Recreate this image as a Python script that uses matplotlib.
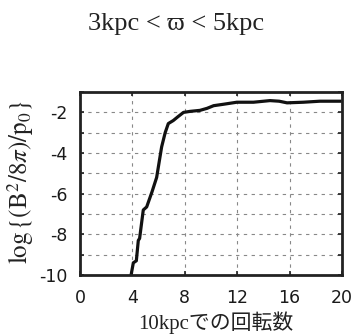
import matplotlib
matplotlib.use('Agg')
import matplotlib.pyplot as plt
import numpy as np

plt.rcParams['mathtext.fontset'] = 'stix'
plt.rcParams['axes.unicode_minus'] = False

# rotations at 10 kpc vs log magnetic / gas pressure
rotations = [3.9, 4.07, 4.3, 4.45, 4.55, 4.83, 5.09, 5.5, 5.85, 6.23, 6.5, 6.74,
             7.12, 7.5, 7.9, 8.4, 9.16, 9.7, 10.2, 10.95, 11.97, 13.24, 14.5,
             15.2, 15.8, 17.05, 18.3, 19.85]
log_ratio = [-10.0, -9.4, -9.3, -8.3, -8.2, -6.8, -6.65, -5.9, -5.2, -3.7, -3.0, -2.55,
             -2.4, -2.2, -2.0, -1.95, -1.9, -1.8, -1.67, -1.6, -1.5, -1.5, -1.42,
             -1.45, -1.53, -1.5, -1.45, -1.45]

x_ticks = [0, 4, 8, 12, 16, 20]
y_ticks = [-10, -8, -6, -4, -2]
y_minor = [-9, -7, -5, -3, -1]

fig = plt.figure(figsize=(3.53, 3.36), dpi=100)
ax = fig.add_axes([0.2266, 0.1815, 0.7424, 0.5445])

ax.plot(rotations, log_ratio, color='#111111', lw=2.3, solid_joinstyle='round')

ax.set_xlim(0, 20)
ax.set_ylim(-10, -1)
ax.set_xticks(x_ticks)
ax.set_yticks(y_ticks)
ax.set_yticks(y_minor, minor=True)
ax.grid(True, which='both', ls=(0, (3, 4)), color='#888888', lw=0.8)
ax.tick_params(which='both', direction='in', length=3, width=1.2, top=True, right=True,
               color='#222222')
ax.tick_params(axis='y', labelsize=12.5, labelcolor='#1a1a1a', pad=9)
ax.tick_params(axis='x', labelsize=12.5, labelcolor='#1a1a1a', pad=10)
for s in ax.spines.values():
    s.set_linewidth(2)
    s.set_color('#222222')

fig.text(0.5, 0.929, '3kpc < ϖ < 5kpc', ha='center', va='center', fontsize=19,
         family=['Liberation Serif', 'DejaVu Serif'], color='#222222')
fig.text(0.058, 0.457, r'$\log\{(\mathrm{B}^2/8\pi)/\mathrm{p}_0\}$', fontsize=18,
         color='#222222', rotation=90, ha='center', va='center')
fig.text(0.612, 0.006, '10kpcでの回転数', fontsize=15, color='#222222',
         family=['Liberation Serif', 'Noto Sans CJK JP'], ha='center', va='bottom')

fig.savefig('out.png', dpi=100)
